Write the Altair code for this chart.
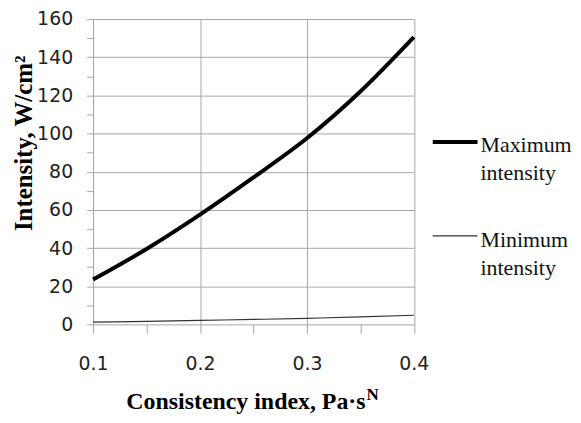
import altair as alt
import pandas as pd

x_vals = [0.1, 0.15, 0.2, 0.25, 0.3, 0.35, 0.4]
max_intensity = [23.5, 39.5, 57.5, 77, 97.5, 122, 150.5]
min_intensity = [1.2, 1.6, 2.1, 2.6, 3.2, 3.9, 4.8]
series_names = ["Maximum intensity", "Minimum intensity"]
x_title_main = "Consistency index, Pa·s"
x_title_sup = "N"
y_title = "Intensity, W/cm²"

rows = []
for x, v in zip(x_vals, max_intensity):
    rows.append({"x": x, "y": v, "series": series_names[0]})
for x, v in zip(x_vals, min_intensity):
    rows.append({"x": x, "y": v, "series": series_names[1]})
df = pd.DataFrame(rows)

grid_color = "#a6a6a6"
tick_font = "DejaVu Sans"

lines = alt.Chart(df).mark_line(interpolate="monotone").encode(
    x=alt.X(
        "x:Q",
        scale=alt.Scale(domain=[0.1, 0.4], nice=False, zero=False),
        axis=alt.Axis(
            title=None,
            values=[0.1, 0.15, 0.2, 0.25, 0.3, 0.35, 0.4],
            labelExpr="abs(datum.value*10 - round(datum.value*10)) < 0.01 ? format(datum.value, '.1f') : ''",
            gridOpacity={"condition": {"test": "abs(datum.value*10 - round(datum.value*10)) > 0.01", "value": 0}, "value": 1},
            grid=True,
            gridColor=grid_color,
            domain=False,
            tickColor=grid_color,
            tickSize=9,
            labelFont=tick_font,
            labelFontSize=19,
            labelColor="#222222",
            labelPadding=21,
            labelFlush=False,
        ),
    ),
    y=alt.Y(
        "y:Q",
        scale=alt.Scale(domain=[0, 160], nice=False),
        axis=alt.Axis(
            title=y_title,
            values=list(range(0, 161, 10)),
            labelExpr="datum.value % 20 === 0 ? datum.label : ''",
            gridOpacity={"condition": {"test": "datum.value % 20 !== 0", "value": 0}, "value": 1},
            grid=True,
            gridColor=grid_color,
            domain=True,
            domainColor=grid_color,
            tickColor=grid_color,
            tickSize=6.5,
            labelFont=tick_font,
            labelFontSize=19,
            labelColor="#222222",
            labelPadding=14,
            labelFlush=False,
            titleFont="Liberation Serif",
            titleFontSize=25,
            titleFontWeight="bold",
            titleColor="black",
            titleAngle=-90,
            titleX=-69.5,
            titleY=124.5,
            titleAlign="center",
            titleBaseline="middle",
        ),
    ),
    color=alt.Color(
        "series:N",
        scale=alt.Scale(domain=series_names, range=["#000000", "#333333"]),
        legend=None,
    ),
    strokeWidth=alt.StrokeWidth(
        "series:N",
        scale=alt.Scale(domain=series_names, range=[4, 1.2]),
        legend=None,
    ),
)

# x-axis title with a real superscript
title_df = pd.DataFrame({"main": [x_title_main], "sup": [x_title_sup]})
x_title = alt.Chart(title_df).mark_text(
    align="right", baseline="alphabetic", font="Liberation Serif",
    fontSize=24, fontWeight="bold", color="black",
).encode(x=alt.value(274), y=alt.value(392), text="main:N")
x_title_n = alt.Chart(title_df).mark_text(
    align="left", baseline="alphabetic", font="Liberation Serif",
    fontSize=17, fontWeight="bold", color="black",
).encode(x=alt.value(275), y=alt.value(383), text="sup:N")

# legend, drawn as marks
leg_max = pd.DataFrame({"label": [series_names[0]]})
leg_min = pd.DataFrame({"label": [series_names[1]]})
text_style = dict(align="left", baseline="middle", lineBreak=" ", lineHeight=28,
                  font="Liberation Serif", fontSize=22, color="#111111")

rule_max = alt.Chart(leg_max).mark_rule(color="black", strokeWidth=4).encode(
    x=alt.value(341.5), x2=alt.value(386.5), y=alt.value(123.7))
text_max = alt.Chart(leg_max).mark_text(**text_style).encode(
    x=alt.value(389.5), y=alt.value(127), text="label:N")
rule_min = alt.Chart(leg_min).mark_rule(color="#333333", strokeWidth=1.2).encode(
    x=alt.value(341.5), x2=alt.value(386.5), y=alt.value(218))
text_min = alt.Chart(leg_min).mark_text(**text_style).encode(
    x=alt.value(389.5), y=alt.value(222), text="label:N")

chart = alt.layer(
    lines, x_title, x_title_n, rule_max, text_max, rule_min, text_min
).properties(
    width=322.5,
    height=307,
    padding={"left": 85.5, "top": 10, "right": 160, "bottom": 90},
    autosize=alt.AutoSizeParams(type="none"),
).configure(
    view={"strokeOpacity": 0},
)

chart.save("out.html", embed_options={"renderer": "svg", "actions": False})
